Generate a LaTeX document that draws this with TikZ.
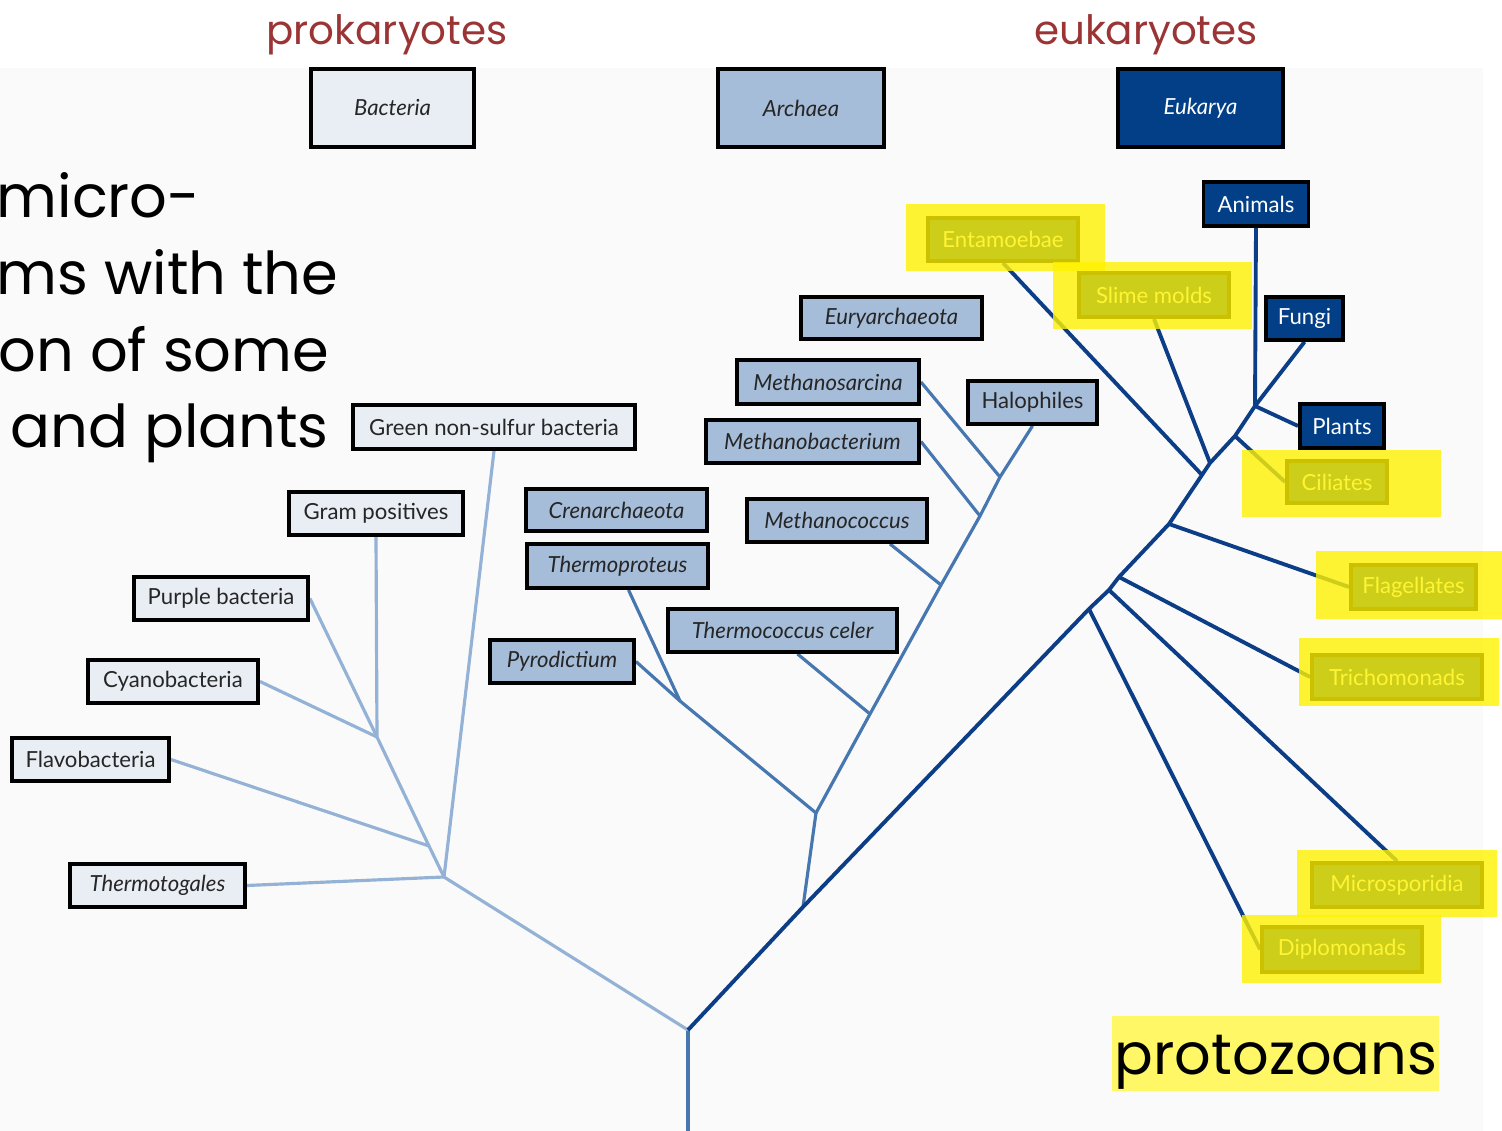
\documentclass[tikz,border=0pt]{standalone}
\usepackage{fontspec}
\setmainfont{Lato}
\newfontfamily\comicfont{Poppins}
\usetikzlibrary{calc,backgrounds}
\definecolor{bactfill}{HTML}{E9EEF5}
\definecolor{archfill}{HTML}{A6BDD9}
\definecolor{eukfill}{HTML}{023F86}
\definecolor{bactline}{HTML}{93B2D5}
\definecolor{archline}{HTML}{4677B0}
\definecolor{eukline}{HTML}{0C3D87}
\definecolor{titlered}{HTML}{9B3535}
\begin{document}
\begin{tikzpicture}[x=0.01cm,y=-0.01cm,
    boxsize/.style 2 args={minimum width=#1*0.01cm,minimum height=#2*0.01cm},
    box/.style={draw=black,line width=1.1pt,inner sep=0pt,font=\fontsize{6.3}{7}\selectfont},
    bact/.style={box,fill=bactfill,text=black!85},
    arch/.style={box,fill=archfill,text=black!85,font=\fontsize{6.3}{7}\selectfont\itshape},
    euk/.style={box,fill=eukfill,text=white},
    topbox/.style={line width=1.3pt,font=\fontsize{6.3}{7}\selectfont\itshape},
    bline/.style={bactline,line width=0.9pt},
    aline/.style={archline,line width=0.9pt},
    eline/.style={eukline,line width=1.1pt},
    hilite/.style={fill=yellow,opacity=0.8},
    comic/.style={anchor=base west,inner sep=0pt,font=\comicfont\fontsize{16.8}{19}\selectfont}]
  \useasboundingbox(0,0)rectangle(1502,1131);
  \begin{pgfonlayer}{background}
    \fill[black!2](0,68)rectangle(1483,1131);
  \end{pgfonlayer}
  % branch points
  \coordinate (base) at (688,1131);
  \coordinate (root) at (688,1030);
  \coordinate (b0) at (444,877);
  \coordinate (b1) at (429,846);
  \coordinate (b2) at (377,737);
  \coordinate (a0) at (803,907);
  \coordinate (a1) at (816,813);
  \coordinate (c1) at (680,701);
  \coordinate (e1) at (870,714);
  \coordinate (e2) at (941,585);
  \coordinate (e3) at (980,516);
  \coordinate (e4) at (1000,477);
  \coordinate (p8) at (1089,609);
  \coordinate (p7) at (1109,590);
  \coordinate (p6) at (1119,577);
  \coordinate (p5) at (1169,524);
  \coordinate (p4) at (1202,475);
  \coordinate (p3) at (1210,463);
  \coordinate (p2) at (1235,436);
  \coordinate (p1) at (1255,406);
  % boxes
  \node[bact,topbox,boxsize={163}{78}] (bacteria) at (392.5,108) {Bacteria};
  \node[arch,topbox,boxsize={166}{78}] (archaea) at (801,108) {Archaea};
  \node[euk,topbox,boxsize={165}{78}] (eukarya) at (1200.5,108) {Eukarya};
  \node[bact,boxsize={282}{44}] (green) at (494,427) {Green non-sulfur bacteria};
  \node[bact,boxsize={174}{43}] (gram) at (376,513.5) {Gram positives};
  \node[bact,boxsize={174}{43}] (purple) at (221,598.5) {Purple bacteria};
  \node[bact,boxsize={170}{43}] (cyano) at (173,681.5) {Cyanobacteria};
  \node[bact,boxsize={157}{43}] (flavo) at (90.5,759.5) {Flavobacteria};
  \node[bact,boxsize={175}{43},font=\fontsize{6.3}{7}\selectfont\itshape] (thermotog) at (157.5,885.5) {Thermotogales};
  \node[arch,boxsize={181}{42}] (cren) at (616.5,510) {Crenarchaeota};
  \node[arch,boxsize={181}{44}] (thermoprot) at (617.5,566) {Thermoproteus};
  \node[arch,boxsize={144}{43}] (pyro) at (562,661.5) {Pyrodictium};
  \node[arch,boxsize={229}{43}] (celer) at (782.5,630.5) {Thermococcus celer};
  \node[arch,boxsize={180}{43}] (mcoccus) at (837,520.5) {Methanococcus};
  \node[arch,boxsize={213}{43}] (mbact) at (812.5,441.5) {Methanobacterium};
  \node[arch,boxsize={182}{44}] (msarc) at (828,382) {Methanosarcina};
  \node[arch,boxsize={181}{42}] (eury) at (891.5,318) {Euryarchaeota};
  \node[arch,boxsize={129}{43},font=\fontsize{6.3}{7}\selectfont] (halo) at (1032.5,402.5) {Halophiles};
  \node[euk,boxsize={105}{44}] (animals) at (1256,204) {Animals};
  \node[euk,boxsize={77}{43}] (fungi) at (1304.5,318.5) {Fungi};
  \node[euk,boxsize={84}{44}] (plants) at (1342,426) {Plants};
  \node[euk,boxsize={150}{43}] (entam) at (1003,239.5) {Entamoebae};
  \node[euk,boxsize={150}{44}] (slime) at (1154,295) {Slime molds};
  \node[euk,boxsize={100}{42}] (ciliates) at (1337,482) {Ciliates};
  \node[euk,boxsize={125}{44}] (flag) at (1413.5,587) {Flagellates};
  \node[euk,boxsize={170}{44}] (trich) at (1397,677) {Trichomonads};
  \node[euk,boxsize={170}{44}] (microsp) at (1397,885) {Microsporidia};
  \node[euk,boxsize={160}{45}] (diplo) at (1342,949.5) {Diplomonads};
  \begin{pgfonlayer}{background}
    % bacteria
    \draw[aline] (base)--(root);
    \draw[bline] (root)--(b0)--(b1)--(b2)--(gram.south);
    \draw[bline] (b0)--(green.south);
    \draw[bline] (b0)--(thermotog.east);
    \draw[bline] (b1)--(flavo.east);
    \draw[bline] (b2)--(cyano.east);
    \draw[bline] (b2)--(purple.east);
    % archaea
    \draw[aline] (a0)--(a1)--(c1)--($(thermoprot.south)+(11,0)$);
    \draw[aline] (c1)--(pyro.east);
    \draw[aline] (a1)--(e1)--(e2)--(e3)--(e4)--(halo.south);
    \draw[aline] (e1)--($(celer.south)+(15,0)$);
    \draw[aline] (e2)--($(mcoccus.south)+(53,0)$);
    \draw[aline] (e3)--(mbact.east);
    \draw[aline] (e4)--(msarc.east);
    % eukarya
    \draw[eline] (root)--(a0)--(p8)--(p7)--(p6)--(p5)--(p4)--(p3)--(p2)--(p1)--(animals.south);
    \draw[eline] (p1)--(fungi.south);
    \draw[eline] (p1)--(plants.west);
    \draw[eline] (p2)--(ciliates.west);
    \draw[eline] (p3)--(slime.south);
    \draw[eline] (p4)--(entam.south);
    \draw[eline] (p5)--(flag.west);
    \draw[eline] (p6)--(trich.west);
    \draw[eline] (p7)--(microsp.north);
    \draw[eline] (p8)--(diplo.west);
  \end{pgfonlayer}
  % highlights
  \fill[hilite](906,204)rectangle(1105,271);
  \fill[hilite](1053,262)rectangle(1252,329);
  \fill[hilite](1242,450)rectangle(1441,517);
  \fill[hilite](1316,551)rectangle(1502,619);
  \fill[hilite](1299,638)rectangle(1499,706);
  \fill[hilite](1297,850)rectangle(1497,917);
  \fill[hilite](1242,915)rectangle(1441,983);
  \fill[yellow!60](1112,1016)rectangle(1439,1091);
  % texts
  \node[comic,font=\comicfont\fontsize{16.3}{19}\selectfont] (proto) at (1114,1075) {protozoans};
  \node[titlered,font=\comicfont\fontsize{11.5}{13}\selectfont,anchor=base,inner sep=0pt] (prok) at (387,45) {prokaryotes};
  \node[titlered,font=\comicfont\fontsize{11.5}{13}\selectfont,anchor=base,inner sep=0pt] (euka) at (1146,45) {eukaryotes};
  \node[comic] (line1) at (-4,218) {micro-};
  \node[comic] (line2) at (-4,295) {ms with the};
  \node[comic] (line3) at (-2,372) {on of some};
  \node[comic] (line4) at (10,448) {and plants};
\end{tikzpicture}
\end{document}
